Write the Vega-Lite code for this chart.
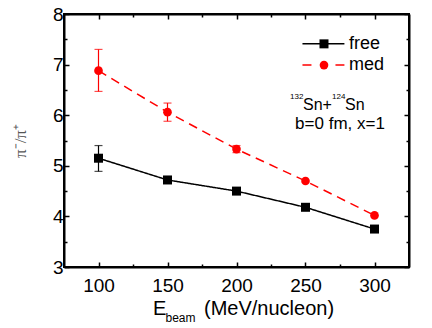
{
  "$schema": "https://vega.github.io/schema/vega-lite/v6.json",
  "width": 345,
  "height": 253,
  "autosize": {"type": "none"},
  "padding": {"left": 64, "top": 14, "right": 23, "bottom": 61},
  "background": "white",
  "config": {
    "view": {"stroke": "black", "strokeWidth": 2},
    "font": "Liberation Sans",
    "axis": {
      "domainColor": "black",
      "domainWidth": 2,
      "tickColor": "black",
      "tickWidth": 1.5,
      "labelFont": "Liberation Sans",
      "labelFontSize": 19,
      "labelColor": "black",
      "grid": false
    }
  },
  "datasets": {
    "main": [
      {"series": "free", "E": 100, "ratio": 5.15},
      {"series": "free", "E": 150, "ratio": 4.72},
      {"series": "free", "E": 200, "ratio": 4.50},
      {"series": "free", "E": 250, "ratio": 4.18},
      {"series": "free", "E": 300, "ratio": 3.75},
      {"series": "med", "E": 100, "ratio": 6.88},
      {"series": "med", "E": 150, "ratio": 6.06},
      {"series": "med", "E": 200, "ratio": 5.33},
      {"series": "med", "E": 250, "ratio": 4.70},
      {"series": "med", "E": 300, "ratio": 4.02}
    ],
    "err": [
      {"series": "free", "E": 100, "lo": 4.89, "hi": 5.40},
      {"series": "free", "E": 150, "lo": 4.66, "hi": 4.78},
      {"series": "med", "E": 100, "lo": 6.47, "hi": 7.30},
      {"series": "med", "E": 150, "lo": 5.88, "hi": 6.24},
      {"series": "med", "E": 200, "lo": 5.26, "hi": 5.40}
    ],
    "one": [{}]
  },
  "resolve": {"axis": {"x": "independent", "y": "independent"}},
  "layer": [
    {
      "data": {"name": "main"},
      "mark": {"type": "line", "strokeWidth": 1.5},
      "encoding": {
        "x": {"field": "E", "type": "quantitative", "scale": {"domain": [75, 325], "nice": false, "zero": false},
          "axis": {"orient": "bottom", "values": [100, 125, 150, 175, 200, 225, 250, 275, 300],
            "labelExpr": "datum.value % 50 === 0 ? format(datum.value, 'd') : ''",
            "tickSize": {"condition": {"test": "datum.value % 50 === 0", "value": -5}, "value": -3},
            "labelPadding": 14, "title": null}},
        "y": {"field": "ratio", "type": "quantitative", "scale": {"domain": [3, 8], "nice": false, "zero": false},
          "axis": {"orient": "left", "values": [3, 3.5, 4, 4.5, 5, 5.5, 6, 6.5, 7, 7.5, 8],
            "labelExpr": "datum.value % 1 === 0 ? format(datum.value, 'd') : ''",
            "tickSize": {"condition": {"test": "datum.value % 1 === 0", "value": -5}, "value": -3},
            "labelPadding": 6,
            "title": "π⁻/π⁺", "titleFont": "Liberation Serif", "titleFontSize": 17, "titleFontWeight": "normal",
            "titleColor": "#555555", "titlePadding": 23}},
        "color": {"field": "series", "type": "nominal", "scale": {"domain": ["free", "med"], "range": ["black", "#ff0000"]}, "legend": null},
        "strokeDash": {"field": "series", "type": "nominal", "scale": {"domain": ["free", "med"], "range": [[1, 0], [9, 6]]}, "legend": null}
      }
    },
    {
      "data": {"name": "err"},
      "mark": {"type": "rule", "strokeWidth": 1.2},
      "encoding": {
        "x": {"field": "E", "type": "quantitative",
          "axis": {"orient": "top", "values": [100, 125, 150, 175, 200, 225, 250, 275, 300], "labels": false,
            "tickSize": {"condition": {"test": "datum.value % 50 === 0", "value": -5}, "value": -3}, "title": null}},
        "y": {"field": "lo", "type": "quantitative",
          "axis": {"orient": "right", "values": [3, 3.5, 4, 4.5, 5, 5.5, 6, 6.5, 7, 7.5, 8], "labels": false,
            "tickSize": {"condition": {"test": "datum.value % 1 === 0", "value": -5}, "value": -3}, "title": null}},
        "y2": {"field": "hi"},
        "color": {"field": "series", "type": "nominal", "legend": null}
      }
    },
    {
      "data": {"name": "err"},
      "mark": {"type": "tick", "orient": "horizontal", "size": 8, "thickness": 1.2},
      "encoding": {
        "x": {"field": "E", "type": "quantitative", "axis": null},
        "y": {"field": "lo", "type": "quantitative", "axis": null},
        "color": {"field": "series", "type": "nominal", "legend": null}
      }
    },
    {
      "data": {"name": "err"},
      "mark": {"type": "tick", "orient": "horizontal", "size": 8, "thickness": 1.2},
      "encoding": {
        "x": {"field": "E", "type": "quantitative", "axis": null},
        "y": {"field": "hi", "type": "quantitative", "axis": null},
        "color": {"field": "series", "type": "nominal", "legend": null}
      }
    },
    {
      "data": {"name": "main"},
      "mark": {"type": "point", "filled": true, "opacity": 1},
      "encoding": {
        "x": {"field": "E", "type": "quantitative", "axis": null},
        "y": {"field": "ratio", "type": "quantitative", "axis": null},
        "color": {"field": "series", "type": "nominal", "legend": null},
        "shape": {"field": "series", "type": "nominal", "scale": {"domain": ["free", "med"], "range": ["square", "circle"]}, "legend": null},
        "size": {"field": "series", "type": "nominal", "scale": {"domain": ["free", "med"], "range": [81, 75]}, "legend": null}
      }
    },
    {
      "data": {"name": "one"},
      "mark": {"type": "rule", "color": "black", "strokeWidth": 1.5},
      "encoding": {"x": {"datum": 247.8, "axis": null}, "x2": {"datum": 278.2}, "y": {"datum": 7.41, "axis": null}}
    },
    {
      "data": {"name": "one"},
      "mark": {"type": "rule", "color": "#ff0000", "strokeWidth": 1.5, "strokeDash": [9, 24]},
      "encoding": {"x": {"datum": 247.8, "axis": null}, "x2": {"datum": 278.2}, "y": {"datum": 6.99, "axis": null}}
    },
    {
      "data": {"name": "one"},
      "mark": {"type": "point", "shape": "square", "filled": true, "color": "black", "size": 81, "opacity": 1},
      "encoding": {"x": {"datum": 263.4, "axis": null}, "y": {"datum": 7.41, "axis": null}}
    },
    {
      "data": {"name": "one"},
      "mark": {"type": "point", "shape": "circle", "filled": true, "color": "#ff0000", "size": 75, "opacity": 1},
      "encoding": {"x": {"datum": 263.4, "axis": null}, "y": {"datum": 6.99, "axis": null}}
    },
    {
      "data": {"name": "one"},
      "mark": {"type": "text", "text": "free", "align": "left", "baseline": "middle", "fontSize": 18, "color": "black"},
      "encoding": {"x": {"datum": 281.5, "axis": null}, "y": {"datum": 7.41, "axis": null}}
    },
    {
      "data": {"name": "one"},
      "mark": {"type": "text", "text": "med", "align": "left", "baseline": "middle", "fontSize": 18, "color": "black"},
      "encoding": {"x": {"datum": 281.5, "axis": null}, "y": {"datum": 6.99, "axis": null}}
    },
    {
      "data": {"name": "one"},
      "mark": {"type": "text", "text": "132", "align": "left", "baseline": "alphabetic", "fontSize": 8, "color": "black", "dx": -84.5, "dy": 34.4},
      "encoding": {"x": {"datum": 300, "axis": null}, "y": {"datum": 7, "axis": null}}
    },
    {
      "data": {"name": "one"},
      "mark": {"type": "text", "text": "Sn+", "align": "left", "baseline": "alphabetic", "fontSize": 16, "color": "black", "dx": -71.5, "dy": 45.6},
      "encoding": {"x": {"datum": 300, "axis": null}, "y": {"datum": 7, "axis": null}}
    },
    {
      "data": {"name": "one"},
      "mark": {"type": "text", "text": "124", "align": "left", "baseline": "alphabetic", "fontSize": 8, "color": "black", "dx": -42.5, "dy": 34.4},
      "encoding": {"x": {"datum": 300, "axis": null}, "y": {"datum": 7, "axis": null}}
    },
    {
      "data": {"name": "one"},
      "mark": {"type": "text", "text": "Sn", "align": "left", "baseline": "alphabetic", "fontSize": 16, "color": "black", "dx": -29.5, "dy": 45.6},
      "encoding": {"x": {"datum": 300, "axis": null}, "y": {"datum": 7, "axis": null}}
    },
    {
      "data": {"name": "one"},
      "mark": {"type": "text", "text": "b=0 fm, x=1", "align": "center", "baseline": "alphabetic", "fontSize": 17, "color": "black", "dx": -34.5, "dy": 64},
      "encoding": {"x": {"datum": 300, "axis": null}, "y": {"datum": 7, "axis": null}}
    },
    {
      "data": {"name": "one"},
      "mark": {"type": "text", "text": "E", "align": "left", "baseline": "alphabetic", "fontSize": 20, "color": "black", "dx": -83.5, "dy": 48},
      "encoding": {"x": {"datum": 200, "axis": null}, "y": {"datum": 3, "axis": null}}
    },
    {
      "data": {"name": "one"},
      "mark": {"type": "text", "text": "beam", "align": "left", "baseline": "alphabetic", "fontSize": 12, "color": "black", "dx": -71, "dy": 55},
      "encoding": {"x": {"datum": 200, "axis": null}, "y": {"datum": 3, "axis": null}}
    },
    {
      "data": {"name": "one"},
      "mark": {"type": "text", "text": "(MeV/nucleon)", "align": "left", "baseline": "alphabetic", "fontSize": 20, "color": "black", "dx": -32.5, "dy": 48},
      "encoding": {"x": {"datum": 200, "axis": null}, "y": {"datum": 3, "axis": null}}
    }
  ]
}
